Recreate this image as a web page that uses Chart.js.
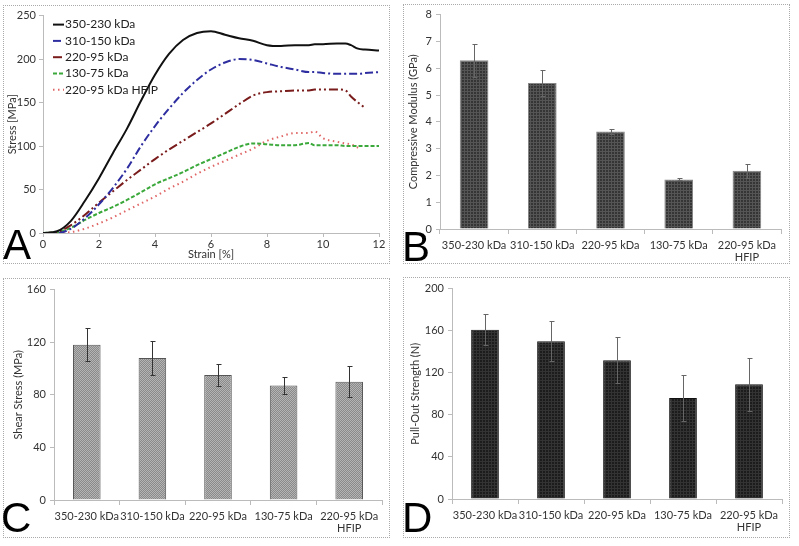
<!DOCTYPE html>
<html>
<head>
<meta charset="utf-8">
<script src="https://cdn.jsdelivr.net/npm/chart.js@4.4.1/dist/chart.umd.min.js"></script>
<style>
  body { margin: 0; background: #fff; width: 799px; height: 546px; position: relative; overflow: hidden; font-family: Lato, sans-serif; }
  .panel { position: absolute; border: 1px dotted #aaa; box-sizing: border-box; }
  canvas { position: absolute; }
  .tag { position: absolute; font-family: 'Liberation Sans', Arial, sans-serif; font-size: 42px; line-height: 42px; color: #000; }
</style>
</head>
<body>
<div class="panel" style="left:3px;top:5px;width:387px;height:259px"></div>
<div class="panel" style="left:403px;top:4px;width:387px;height:260px"></div>
<div class="panel" style="left:3px;top:278px;width:387px;height:260px"></div>
<div class="panel" style="left:403px;top:277px;width:387px;height:261px"></div>

<canvas id="chartA" width="384" height="260" style="left:4px;top:6px"></canvas>
<canvas id="chartB" width="384" height="264" style="left:404px;top:4px"></canvas>
<canvas id="chartC" width="384" height="262" style="left:4px;top:279px"></canvas>
<canvas id="chartD" width="384" height="263" style="left:404px;top:278px"></canvas>

<div class="tag" style="left:3px;top:224px">A</div>
<div class="tag" style="left:402px;top:226px">B</div>
<div class="tag" style="left:1px;top:497px">C</div>
<div class="tag" style="left:402px;top:497px">D</div>

<script>
// panel A: stress-strain curves
const strain = [0, 0.5, 1, 1.5, 2, 2.5, 3, 3.5, 4, 4.5, 5, 5.5, 6, 6.5, 7, 7.5, 8, 8.5, 9, 9.5, 9.7, 10, 10.5, 10.8, 11, 11.25, 11.5, 12];
const stress350 = [0, 2, 14, 37, 63, 92, 120, 152, 182, 206, 222, 230, 232, 228, 224, 221, 216, 215, 216, 216, 217, 217, 218, 218, 216, 212, 211, 210];
const stress310 = [0, 0, 5, 17, 33, 52, 74, 100, 123, 143, 161, 176, 188, 196, 200, 199, 195, 191, 188, 185, 185, 184, 183, 183, 183, 183, 184, 185];
const stress220 = [0, 1, 9, 21, 35, 48, 61, 73, 85, 96, 106, 116, 126, 137, 148, 158, 162, 163, 164, 164, 165, 165, 165, 164, 157, 150, 144, null];
const stress130 = [0, 1, 6, 15, 23, 30, 38, 47, 56, 63, 70, 78, 85, 92, 99, 103, 102, 101, 101, 103.5, 101, 101, 101, 100, 100, 100, 100, 100];
const stressHfip = [0, 0, 1, 5, 11, 18, 26, 34, 42, 51, 59, 68, 76, 83, 90, 97, 106, 111, 115, 115, 117, 109, 105, 103, 102, 98, null, null];
const curveLabels = ['350-230 kDa', '310-150 kDa', '220-95 kDa', '130-75 kDa', '220-95 kDa HFIP'];

// panels B-D: bar charts
const groups = ['350-230 kDa', '310-150 kDa', '220-95 kDa', '130-75 kDa', ['220-95 kDa', 'HFIP']];
const modulus = [6.3, 5.45, 3.64, 1.85, 2.17];
const modulusErr = [0.62, 0.5, 0.11, 0.04, 0.27];
const shear = [118, 108, 95, 87, 90];
const shearErr = [12.6, 13, 8.3, 6.5, 12];
const pullOut = [161, 150, 132, 96, 109];
const pullOutErr = [15, 19, 22, 22, 25];

const FONT = 'Lato';
const TXT = '#333';
const AXIS = '#bbb';

Chart.defaults.font.family = FONT;
Chart.defaults.color = TXT;
Chart.defaults.animation = false;

function pts(ys) {
    return strain.map((x, i) => ({ x: x, y: ys[i] }));
}

function makePattern(ctx, base, mark, size, checker) {
    const c = document.createElement('canvas');
    c.width = size;
    c.height = size;
    const g = c.getContext('2d');
    g.fillStyle = base;
    g.fillRect(0, 0, size, size);
    g.fillStyle = mark;
    if (checker) {
        g.fillRect(0, 0, 1, 1);
        g.fillRect(1, 1, 1, 1);
    } else {
        g.fillRect(0, 0, size, 1);
        g.fillRect(0, 0, 1, size);
    }
    return ctx.createPattern(c, 'repeat');
}

// legend drawn inside the plot, top-left
const insideLegend = {
    id: 'insideLegend',
    afterDraw(chart) {
        const { ctx, chartArea } = chart;
        ctx.save();
        ctx.font = '12px ' + FONT;
        ctx.textBaseline = 'middle';
        chart.data.datasets.forEach((ds, i) => {
            const y = chartArea.top + 9 + i * 16.3;
            const x0 = chartArea.left + 10;
            ctx.strokeStyle = ds.borderColor;
            ctx.lineWidth = 2;
            ctx.setLineDash(ds.borderDash || []);
            ctx.beginPath();
            ctx.moveTo(x0, y);
            ctx.lineTo(x0 + 11, y);
            ctx.stroke();
            ctx.setLineDash([]);
            ctx.fillStyle = '#222';
            ctx.fillText(ds.label, x0 + 12, y);
        });
        ctx.restore();
    }
};

const errorBars = {
    id: 'errorBars',
    afterDatasetsDraw(chart, args, opts) {
        const meta = chart.getDatasetMeta(0);
        const values = chart.data.datasets[0].data;
        const yScale = chart.scales.y;
        const ctx = chart.ctx;
        ctx.save();
        ctx.strokeStyle = opts.color;
        ctx.lineWidth = 1;
        meta.data.forEach((bar, i) => {
            const hi = Math.round(yScale.getPixelForValue(values[i] + opts.errors[i])) + 0.5;
            const lo = Math.round(yScale.getPixelForValue(values[i] - opts.errors[i])) + 0.5;
            const x = Math.round(bar.x) + 0.5;
            ctx.beginPath();
            ctx.moveTo(x, hi); ctx.lineTo(x, lo);
            ctx.moveTo(x - 2, hi); ctx.lineTo(x + 3, hi);
            ctx.moveTo(x - 2, lo); ctx.lineTo(x + 3, lo);
            ctx.stroke();
        });
        ctx.restore();
    }
};

function axisBase(extra) {
    return Object.assign({
        grid: { drawOnChartArea: false, drawTicks: true, tickLength: 4, color: AXIS },
        border: { display: true, color: AXIS }
    }, extra);
}

// ---- A ----
new Chart(document.getElementById('chartA'), {
    type: 'line',
    data: {
        datasets: [
            { label: curveLabels[0], data: pts(stress350), borderColor: '#111', borderWidth: 2 },
            { label: curveLabels[1], data: pts(stress310), borderColor: '#2e2ea0', borderWidth: 2, borderDash: [8, 3, 2, 3] },
            { label: curveLabels[2], data: pts(stress220), borderColor: '#7a1c1c', borderWidth: 2, borderDash: [9, 3, 2, 3, 2, 3] },
            { label: curveLabels[3], data: pts(stress130), borderColor: '#3aa83a', borderWidth: 2, borderDash: [4, 2] },
            { label: curveLabels[4], data: pts(stressHfip), borderColor: '#e06666', borderWidth: 2, borderDash: [1.5, 3.5] }
        ]
    },
    options: {
        responsive: false,
        layout: { padding: { left: 0, top: 7, right: 9, bottom: 0 } },
        elements: { point: { radius: 0 }, line: { cubicInterpolationMode: 'monotone' } },
        plugins: { legend: { display: false }, tooltip: { enabled: false } },
        scales: {
            x: axisBase({
                type: 'linear', min: 0, max: 12,
                ticks: { stepSize: 2, padding: 1, font: { size: 11 } },
                title: { display: true, text: 'Strain [%]', font: { size: 11 }, padding: { top: 0, bottom: 5 } },
                afterFit: s => { s.height = 33; }
            }),
            y: axisBase({
                min: 0, max: 250,
                ticks: { stepSize: 50, padding: 3, font: { size: 11 } },
                title: { display: true, text: 'Stress [MPa]', font: { size: 11 }, padding: { top: 1.5, bottom: 0 } },
                afterFit: s => { s.width = 39; }
            })
        }
    },
    plugins: [insideLegend]
});

function barChart(id, values, errors, opts) {
    const canvas = document.getElementById(id);
    const ctx = canvas.getContext('2d');
    new Chart(canvas, {
        type: 'bar',
        data: {
            labels: groups,
            datasets: [{
                data: values,
                backgroundColor: makePattern(ctx, opts.base, opts.mark, opts.tile, opts.checker),
                borderColor: opts.edge,
                borderWidth: 1,
                barPercentage: 0.42,
                categoryPercentage: 1
            }]
        },
        options: {
            responsive: false,
            layout: { padding: { left: 0, top: opts.top, right: opts.right, bottom: 0 } },
            plugins: {
                legend: { display: false },
                tooltip: { enabled: false },
                errorBars: { errors: errors, color: opts.errColor }
            },
            scales: {
                x: axisBase({
                    grid: { drawOnChartArea: false, drawTicks: true, tickLength: 5, color: AXIS, offset: true },
                    ticks: { padding: 5, maxRotation: 0, autoSkip: false, font: { size: 11, lineHeight: 1.1 } },
                    afterFit: s => { s.height = opts.xHeight; }
                }),
                y: axisBase({
                    min: 0, max: opts.max,
                    ticks: { stepSize: opts.step, padding: 4, font: { size: 11 } },
                    title: { display: true, text: opts.title, font: { size: 11 }, padding: { top: opts.titlePad, bottom: 0 } },
                    afterFit: s => { s.width = opts.yWidth; }
                })
            }
        },
        plugins: [errorBars]
    });
}

// ---- B ----
barChart('chartB', modulus, modulusErr, {
    base: '#353535', mark: '#555', tile: 3, checker: false, edge: '#888', errColor: '#666',
    top: 8, right: 7, xHeight: 39, yWidth: 36, max: 8, step: 1,
    title: 'Compressive Modulus (GPa)', titlePad: 2.4
});

// ---- C ----
barChart('chartC', shear, shearErr, {
    base: '#b4b4b4', mark: '#8a8a8a', tile: 2, checker: true, edge: '#555', errColor: '#333',
    top: 8, right: 6, xHeight: 41, yWidth: 50, max: 160, step: 40,
    title: 'Shear Stress (MPa)', titlePad: 7.4
});

// ---- D ----
barChart('chartD', pullOut, pullOutErr, {
    base: '#1c1c1c', mark: '#333', tile: 3, checker: false, edge: '#111', errColor: '#666',
    top: 7, right: 6, xHeight: 42, yWidth: 48, max: 200, step: 40,
    title: 'Pull-Out Strength (N)', titlePad: 4.4
});
</script>
</body>
</html>
